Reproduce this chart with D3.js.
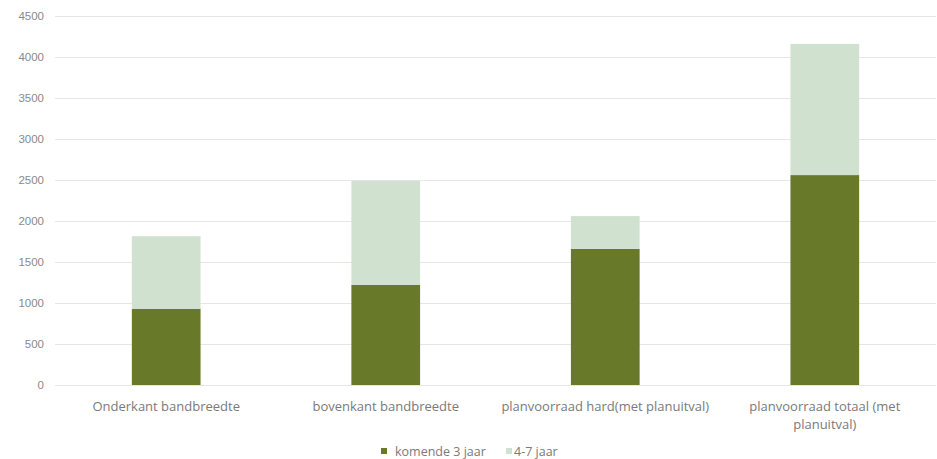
<!DOCTYPE html>
<html>
<head>
<meta charset="utf-8">
<script src="https://cdn.jsdelivr.net/npm/d3@7"></script>
<style>
  html, body { margin: 0; padding: 0; background: #fff; }
  svg { display: block; font-family: "Open Sans", "Liberation Sans", sans-serif; }
</style>
</head>
<body>
<svg id="chart" width="937" height="459"></svg>
<script>
// Woningbouw: planvoorraad vs. bandbreedte
const categories = [
  ["Onderkant bandbreedte"],
  ["bovenkant bandbreedte"],
  ["planvoorraad hard(met planuitval)"],
  ["planvoorraad totaal (met", "planuitval)"]
];
const seriesNames = ["komende 3 jaar", "4-7 jaar"];
const komende3Jaar = [930, 1220, 1660, 2560];
const jaar4tot7 = [885, 1270, 400, 1600];
const yTicks = [0, 500, 1000, 1500, 2000, 2500, 3000, 3500, 4000, 4500];
const colors = ["#687a2a", "#d0e2cf"];

const svg = d3.select("#chart");
const margin = { top: 16, right: 1, bottom: 74, left: 55 };
const width = 937 - margin.left - margin.right;
const height = 459 - margin.top - margin.bottom;

const rows = categories.map((c, i) => ({
  key: i,
  "komende 3 jaar": komende3Jaar[i],
  "4-7 jaar": jaar4tot7[i]
}));
const stacked = d3.stack().keys(seriesNames)(rows);

const x = d3.scaleBand().domain(d3.range(categories.length)).range([0, width]).paddingInner(0.687).paddingOuter(0.35);
const y = d3.scaleLinear().domain([0, 4500]).range([height, 0]);

const g = svg.append("g").attr("transform", `translate(${margin.left},${margin.top})`);

// gridlines and y tick labels
const yAxis = g.append("g")
  .call(d3.axisLeft(y).tickValues(yTicks).tickSize(-width).tickPadding(11).tickFormat(d3.format("d")));
yAxis.select(".domain").remove();
yAxis.selectAll(".tick line").attr("stroke", "#e6e6e6").attr("stroke-width", 1);
yAxis.selectAll(".tick text").attr("fill", "#8a8a8a").style("font-size", "11.5px");

// stacked bars
g.selectAll(".series")
  .data(stacked)
  .join("g")
  .attr("class", "series")
  .attr("fill", (d, i) => colors[i])
  .selectAll("rect")
  .data(d => d)
  .join("rect")
  .attr("x", d => x(d.data.key))
  .attr("width", x.bandwidth())
  .attr("y", d => y(d[1]))
  .attr("height", d => y(d[0]) - y(d[1]));

// category labels
const xl = g.append("g").attr("transform", `translate(0,${height})`);
categories.forEach((lines, i) => {
  const cx = x(i) + x.bandwidth() / 2;
  const t = xl.append("text")
    .attr("x", cx)
    .attr("y", 26)
    .attr("text-anchor", "middle")
    .attr("fill", "#7a7a7a")
    .style("font-size", "13px");
  lines.forEach((ln, j) => {
    t.append("tspan").attr("x", cx).attr("dy", j === 0 ? 0 : 17.5).text(ln);
  });
});

// legend
const legend = svg.append("g").attr("transform", "translate(381,452)");
const legendItems = [
  { name: seriesNames[0], color: colors[0], x: 0, tx: 14 },
  { name: seriesNames[1], color: colors[1], x: 125, tx: 133 }
];
legendItems.forEach(it => {
  legend.append("rect").attr("x", it.x).attr("y", -4).attr("width", 6).attr("height", 6).attr("fill", it.color);
  legend.append("text").attr("x", it.tx).attr("y", 3.5)
    .attr("fill", "#7a7a7a").style("font-size", "12.5px").text(it.name);
});
</script>
</body>
</html>
